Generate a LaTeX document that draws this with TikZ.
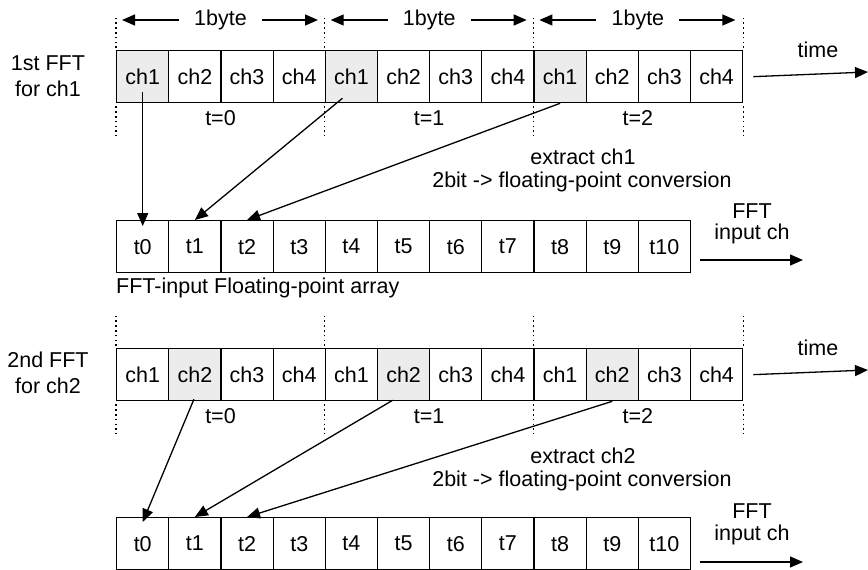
\documentclass[tikz,border=0pt]{standalone}
\usepackage{fontspec}
\setmainfont{Liberation Sans}
\usetikzlibrary{arrows.meta}
\begin{document}
\begin{tikzpicture}[x=1pt,y=-1pt,
  txt/.style={font=\fontsize{21.5}{25}\selectfont, inner sep=0pt},
  cell/.style={txt, draw, line width=1.3pt, minimum width=52.17pt, minimum height=52pt, anchor=north west},
  sel/.style={cell, fill=gray!15},
  arr/.style={-{Triangle[length=13pt,width=11pt]}, line width=1.3pt},
  dotl/.style={dash pattern=on 1.6pt off 3.2pt, line width=1.6pt}]
\useasboundingbox (0,0) rectangle (868,570);

% ---------- section 1 ----------
\foreach \i in {0,...,11}{
  \pgfmathtruncatemacro{\c}{mod(\i,4)+1}
  \ifnum\c=1 \def\st{sel}\else\def\st{cell}\fi
  \node[\st] (A\i) at (116+52.17*\i,50) {ch\c};
}
\foreach \i in {0,...,10}{
  \node[cell] (P\i) at (116+52.17*\i,220) {t\i};
}
% section 2
\foreach \i in {0,...,11}{
  \pgfmathtruncatemacro{\c}{mod(\i,4)+1}
  \ifnum\c=2 \def\st{sel}\else\def\st{cell}\fi
  \node[\st] (B\i) at (116+52.17*\i,348) {ch\c};
}
\foreach \i in {0,...,10}{
  \node[cell] (Q\i) at (116+52.17*\i,517) {t\i};
}

% dotted separators
\foreach \n in {A0.north west,A4.north west,A8.north west,A11.north east,B0.north west,B4.north west,B8.north west,B11.north east}{
  \draw[dotl] (\n) ++(0,-2) -- ++(0,-30);
}
\foreach \n in {A0.south west,A4.south west,A8.south west,A11.south east,B0.south west,B4.south west,B8.south west,B11.south east}{
  \draw[dotl] (\n) ++(0,3) -- ++(0,29);
}

% 1byte labels
\foreach \k/\x in {0/220.5,1/429.2,2/637.9}{
  \node[txt] (by\k) at (\x,20) {1byte};
  \coordinate (bl\k) at (\x-98.5,20);
  \coordinate (br\k) at (\x+97.5,20);
  \draw[arr] ([xshift=-15pt]by\k.west) -- (bl\k);
  \draw[arr] ([xshift=15pt]by\k.east) -- (br\k);
}

% left labels
\node[txt, align=center] (L1) at (48,76) {1st FFT\\[1pt]for ch1};
\node[txt, align=center] (L2) at (48,373) {2nd FFT\\[1pt]for ch2};

% t= labels
\node[txt] (ta0) at (220.5,118) {t=0};
\node[txt] (ta1) at (429.2,118) {t=1};
\node[txt] (ta2) at (637.9,118) {t=2};
\node[txt] (tb0) at (220.5,416) {t=0};
\node[txt] (tb1) at (429.2,416) {t=1};
\node[txt] (tb2) at (637.9,416) {t=2};

% time arrows
\node[txt] (time1) at (818,50) {time};
\coordinate (te1) at (868,72);
\draw[arr] ([xshift=10pt]A11.east) -- (te1);
\node[txt] (time2) at (818,348) {time};
\coordinate (te2) at (868,370);
\draw[arr] ([xshift=10pt]B11.east) -- (te2);

% FFT input ch
\node[txt] (f1) at (752,211) {FFT};
\node[txt] (i1) at (752,234) {input ch};
\coordinate (fs1) at (700,260);
\coordinate (fe1) at (803,260);
\draw[arr] (fs1) -- (fe1);
\node[txt] (f2) at (752,511) {FFT};
\node[txt] (i2) at (752,535) {input ch};
\coordinate (fs2) at (700,562);
\coordinate (fe2) at (803,562);
\draw[arr] (fs2) -- (fe2);

% extract labels
\node[txt] (e1) at (583,157) {extract ch1};
\node[txt] (c1) at (582,182) {2bit -> floating-point conversion};
\node[txt] (e2) at (583,456) {extract ch2};
\node[txt] (c2) at (582,481) {2bit -> floating-point conversion};

\node[txt, anchor=west] (fa) at (116,288) {FFT-input Floating-point array};

% connectors section 1
\draw[arr] ([yshift=11pt]A0.south) -- ([yshift=-6pt]P0.north);
\draw[arr] ([xshift=-9pt,yshift=5pt]A4.south) -- (P1.north);
\draw[arr] (A8.south) -- (P2.north);
% connectors section 2
\draw[arr] ([xshift=-1pt,yshift=2pt]B1.south) -- ([yshift=-5pt]P0.north |- Q0.north);
\draw[arr] ([xshift=-11pt,yshift=1pt]B5.south) -- (Q1.north);
\draw[arr] (B9.south) -- (Q2.north);
\end{tikzpicture}
\end{document}
